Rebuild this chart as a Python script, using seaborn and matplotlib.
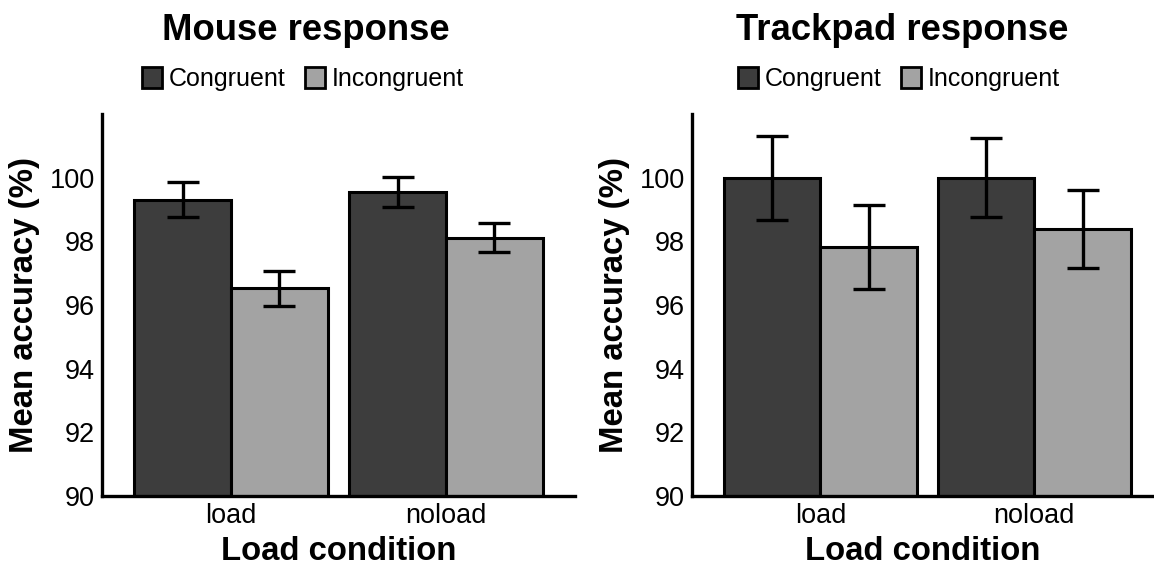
import matplotlib
matplotlib.use("Agg")
import matplotlib.pyplot as plt
from matplotlib.patches import Patch
import pandas as pd
import seaborn as sns

# values
loads = ["load", "noload"]
congruency = ["Congruent", "Incongruent"]
mouse_mean = [99.31, 96.52, 99.55, 98.12]
mouse_err = [0.55, 0.56, 0.46, 0.47]
track_mean = [100.0, 97.83, 100.0, 98.38]
track_err = [1.32, 1.32, 1.24, 1.23]

colors = {"Congruent": "#3d3d3d", "Incongruent": "#a3a3a3"}

sns.set_theme(style="white")
plt.rcParams["font.family"] = ["Liberation Sans", "DejaVu Sans"]
plt.rcParams["text.color"] = "black"
plt.rcParams["axes.labelcolor"] = "black"


def make_df(means, errs):
    rows = []
    k = 0
    for ld in loads:
        for c in congruency:
            rows.append({"load": ld, "cond": c, "acc": means[k], "se": errs[k]})
            k += 1
    return pd.DataFrame(rows)


fig = plt.figure(figsize=(11.54, 5.70), dpi=100)
W, H = 1154, 570
panels = [
    ("Mouse response", make_df(mouse_mean, mouse_err), 102, 575, (-0.6, 1.6), 306, 303),
    ("Trackpad response", make_df(track_mean, track_err), 692, 1154, (-0.6, 1.559), 902, 899),
]

for title, df, x0, x1, xl, tx, lx in panels:
    ax = fig.add_axes([x0 / W, (H - 496) / H, (x1 - x0) / W, (496 - 114) / H])
    sns.barplot(data=df, x="load", y="acc", hue="cond", hue_order=congruency,
                order=loads, palette=colors, edgecolor="black", linewidth=2.2,
                width=0.9, errorbar=None, legend=False, ax=ax, saturation=1)
    # error bars on top of each bar
    for j, c in enumerate(congruency):
        sub = df[df["cond"] == c].set_index("load").loc[loads]
        for bar, se in zip(ax.containers[j], sub["se"]):
            xc = bar.get_x() + bar.get_width() / 2
            ax.errorbar(xc, bar.get_height(), yerr=se, fmt="none", ecolor="black",
                        elinewidth=2.4, capsize=11.5, capthick=2.4, zorder=5)
    ax.set_ylim(90, 102)
    ax.set_xlim(*xl)
    ax.set_yticks([90, 92, 94, 96, 98, 100])
    sns.despine(ax=ax)
    for s in ["left", "bottom"]:
        ax.spines[s].set_linewidth(2.4)
        ax.spines[s].set_color("black")
    ax.tick_params(axis="both", labelsize=19.5, colors="#333333", length=3, width=1,
                   pad=2, labelcolor="black")
    ax.set_ylabel("Mean accuracy (%)", fontsize=23.7, fontweight="bold", labelpad=7)
    ax.set_xlabel("Load condition", fontsize=23.7, fontweight="bold", labelpad=5)
    fig.text(tx / W, 1 - 31 / H, title, fontsize=26.3, fontweight="bold",
             ha="center", va="center")
    handles = [Patch(facecolor=colors[c], edgecolor="black", linewidth=2) for c in congruency]
    fig.legend(handles, congruency, loc="center", bbox_to_anchor=(lx / W, 1 - 79 / H),
               ncol=2, frameon=False, fontsize=18, handlelength=0.8, handleheight=0.9,
               handletextpad=0.3, columnspacing=0.75, borderaxespad=0)

fig.savefig("out.png", dpi=100)
